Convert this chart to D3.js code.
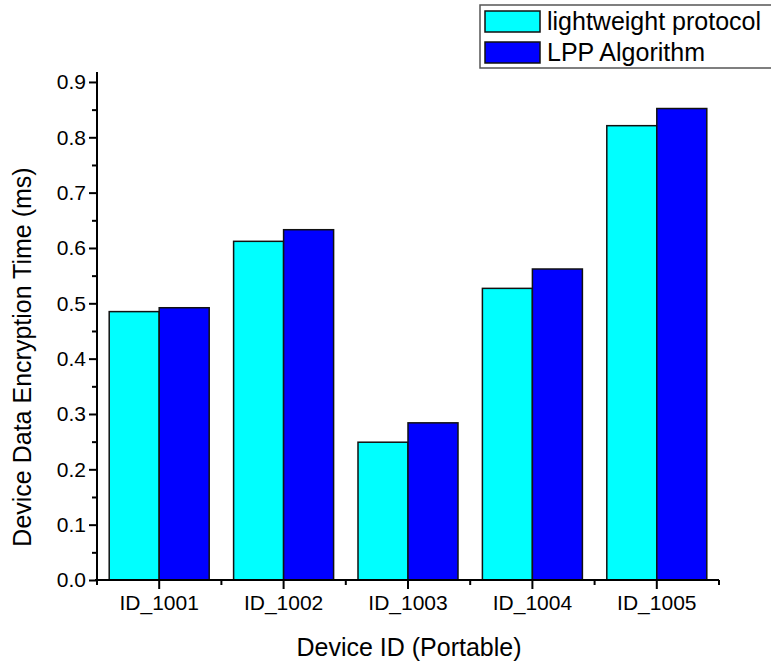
<!DOCTYPE html>
<html><head><meta charset="utf-8">
<script src="https://cdn.jsdelivr.net/npm/d3@7"></script>
<style>body{margin:0;background:#fff;} svg{display:block;font-family:Arial,"Liberation Sans",sans-serif;}</style>
</head><body>
<svg id="chart" width="771" height="664"></svg>
<script>
const categories = ["ID_1001","ID_1002","ID_1003","ID_1004","ID_1005"];
const seriesNames = ["lightweight protocol","LPP Algorithm"];
const lightweight = [0.485, 0.612, 0.249, 0.527, 0.821];
const lpp = [0.492, 0.633, 0.284, 0.562, 0.852];
const seriesColors = ["#00FFFF","#0000FF"];
const yTicks = [0.0,0.1,0.2,0.3,0.4,0.5,0.6,0.7,0.8,0.9];
const yMinorTicks = [0.05,0.15,0.25,0.35,0.45,0.55,0.65,0.75,0.85];

(function(){
const svg = d3.select("#chart");
const pL = 97, pR = 719, pT = 72, pB = 580;
const y = d3.scaleLinear().domain([0, 0.918]).range([pB, pT]);
const x = d3.scaleBand().domain(categories).range([pL, pR]).paddingInner(0).paddingOuter(0);
const groupW = 100;
const xs = d3.scaleBand().domain(seriesNames).range([0, groupW]);

const data = categories.map((c,i)=>({cat:c, vals:[lightweight[i], lpp[i]]}));
const g = svg.append("g");
data.forEach(d=>{
  const off = x(d.cat) + (x.bandwidth()-groupW)/2;
  d.vals.forEach((v,j)=>{
    g.append("rect")
      .attr("x", off + xs(seriesNames[j]))
      .attr("y", y(v))
      .attr("width", xs.bandwidth())
      .attr("height", y(0)-y(v))
      .attr("fill", seriesColors[j])
      .attr("stroke", "#111").attr("stroke-width", 1.5);
  });
});

// Y axis
const yAxis = svg.append("g").attr("transform", `translate(${pL},0)`)
  .call(d3.axisLeft(y).tickValues(yTicks).tickFormat(d3.format(".1f")).tickSize(8).tickSizeOuter(0));
yAxis.select(".domain").attr("stroke","#000").attr("stroke-width",2).attr("d",`M0,${pT}V${pB}`);
yAxis.selectAll(".tick line").attr("stroke-width",2);
yAxis.selectAll(".tick text").attr("font-size",21).attr("fill","#000").attr("x",-11);
svg.append("g").attr("transform", `translate(${pL},0)`)
  .call(d3.axisLeft(y).tickValues(yMinorTicks).tickSize(5).tickFormat(""))
  .call(s=>s.select(".domain").remove())
  .selectAll("line").attr("stroke-width",2);

// X axis
const xAxis = svg.append("g").attr("transform", `translate(0,${pB})`)
  .call(d3.axisBottom(x).tickSize(9).tickSizeOuter(0));
xAxis.select(".domain").attr("stroke","#000").attr("stroke-width",2).attr("d",`M${pL-2},0H${pR}`);
xAxis.selectAll(".tick line").attr("stroke-width",2);
xAxis.selectAll(".tick text").attr("font-size",21).attr("fill","#000").attr("y",15);
const bounds = categories.map(c=>x(c)).concat([pR]);
xAxis.selectAll(".minor").data(bounds).enter().append("line")
  .attr("x1",d=>d).attr("x2",d=>d).attr("y1",0).attr("y2",5)
  .attr("stroke","#000").attr("stroke-width",2);

// Titles
svg.append("text").attr("x",(pL+pR)/2+1).attr("y",656).attr("text-anchor","middle")
  .attr("font-size",25).text("Device ID (Portable)");
svg.append("text").attr("transform",`translate(31,${(pT+pB)/2+31}) rotate(-90)`)
  .attr("text-anchor","middle").attr("font-size",25).text("Device Data Encryption Time (ms)");

// Legend
const lg = svg.append("g");
lg.append("rect").attr("x",480).attr("y",5).attr("width",300).attr("height",63)
  .attr("fill","#fff").attr("stroke","#555").attr("stroke-width",1.5);
seriesNames.forEach((n,i)=>{
  lg.append("rect").attr("x",485).attr("y",11+i*31).attr("width",55).attr("height",21)
    .attr("fill",seriesColors[i]).attr("stroke","#111").attr("stroke-width",1.5);
  lg.append("text").attr("x",547).attr("y",30+i*31).attr("font-size",25).text(n);
});
})();
</script>
</body></html>
